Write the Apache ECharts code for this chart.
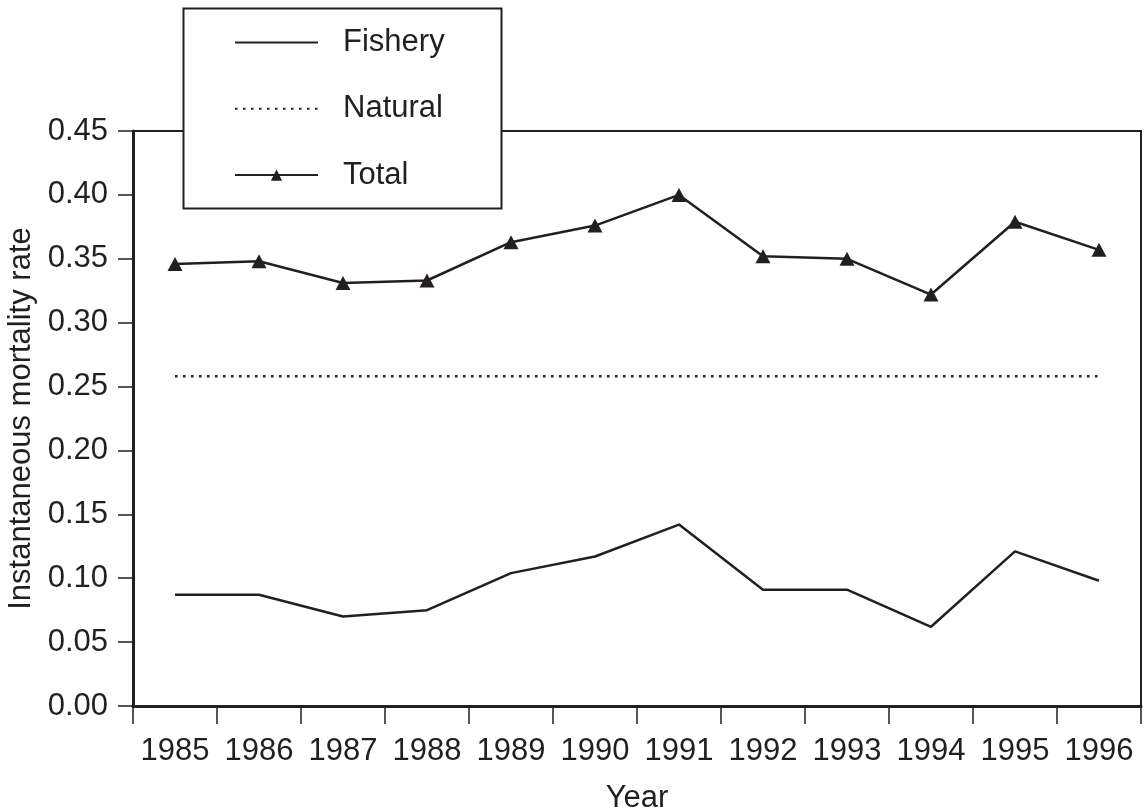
<!DOCTYPE html>
<html lang="en" style="height: 100%">
<head>
    <meta charset="utf-8">
</head>
<body style="height: 100%; margin: 0; background: #fff">
<div id="container" style="width: 1146px; height: 812px"></div>

<script type="text/javascript" src="https://fastly.jsdelivr.net/npm/echarts@6/dist/echarts.min.js"></script>
<script type="text/javascript">
    // data
    var years = ['1985', '1986', '1987', '1988', '1989', '1990', '1991', '1992', '1993', '1994', '1995', '1996'];
    var fishery = [0.087, 0.087, 0.070, 0.075, 0.104, 0.117, 0.142, 0.091, 0.091, 0.062, 0.121, 0.098];
    var natural = [0.258, 0.258, 0.258, 0.258, 0.258, 0.258, 0.258, 0.258, 0.258, 0.258, 0.258, 0.258];
    var total = [0.346, 0.348, 0.331, 0.333, 0.363, 0.376, 0.400, 0.352, 0.350, 0.322, 0.379, 0.357];

    var ink = '#231f20';
    var font = 'Liberation Sans';

    var dom = document.getElementById('container');
    var myChart = echarts.init(dom);

    var option = {
        animation: false,
        grid: {
            left: 133,
            right: 5,
            top: 131,
            bottom: 106,
            outerBoundsMode: 'none',
            containLabel: false,
            show: true,
            borderColor: ink,
            borderWidth: 2
        },
        // legend frame, drawn over the plot border
        graphic: [{
            type: 'rect',
            z: 3,
            shape: { x: 183.5, y: 8.5, width: 318, height: 200 },
            style: { fill: '#fff', stroke: ink, lineWidth: 2 }
        }],
        legend: {
            orient: 'vertical',
            left: 234,
            top: 27,
            padding: 0,
            itemWidth: 83,
            itemHeight: 14,
            itemGap: 35.3,
            selectedMode: false,
            textStyle: {
                fontFamily: font,
                fontSize: 31,
                lineHeight: 31,
                color: ink,
                padding: [0, 0, 0, 20]
            },
            data: [
                { name: 'Fishery', itemStyle: { opacity: 0 } },
                { name: 'Natural', itemStyle: { opacity: 0 } },
                { name: 'Total' }
            ]
        },
        xAxis: {
            type: 'category',
            data: years,
            boundaryGap: true,
            name: 'Year',
            nameLocation: 'middle',
            nameGap: 77,
            nameTextStyle: { fontFamily: font, fontSize: 31, color: ink },
            axisLine: { show: true, lineStyle: { color: ink, width: 3 } },
            axisTick: { show: true, interval: 0, alignWithLabel: false, length: 18, lineStyle: { color: ink, width: 1.5 } },
            axisLabel: { interval: 0, margin: 30, fontFamily: font, fontSize: 31, color: ink },
            splitLine: { show: false }
        },
        yAxis: {
            type: 'value',
            min: 0,
            max: 0.45,
            interval: 0.05,
            name: 'Instantaneous mortality rate',
            nameLocation: 'middle',
            nameGap: 90,
            nameTextStyle: { fontFamily: font, fontSize: 31, color: ink },
            axisLine: { show: true, lineStyle: { color: ink, width: 3 } },
            axisTick: { show: true, length: 15, lineStyle: { color: ink, width: 1.5 } },
            axisLabel: {
                margin: 25,
                fontFamily: font,
                fontSize: 31,
                color: ink,
                formatter: function (v) { return v.toFixed(2); }
            },
            splitLine: { show: false }
        },
        series: [
            {
                name: 'Fishery',
                type: 'line',
                data: fishery,
                symbol: 'none',
                color: ink,
                lineStyle: { color: ink, width: 2.5 }
            },
            {
                name: 'Natural',
                type: 'line',
                data: natural,
                symbol: 'none',
                color: ink,
                lineStyle: { color: ink, width: 2.5, type: [2.5, 5.5] }
            },
            {
                name: 'Total',
                type: 'line',
                data: total,
                symbol: 'triangle',
                symbolSize: [15, 14],
                color: ink,
                itemStyle: { color: ink },
                lineStyle: { color: ink, width: 2.5 }
            }
        ]
    };

    myChart.setOption(option);
    window.addEventListener('resize', myChart.resize);
</script>
</body>
</html>
